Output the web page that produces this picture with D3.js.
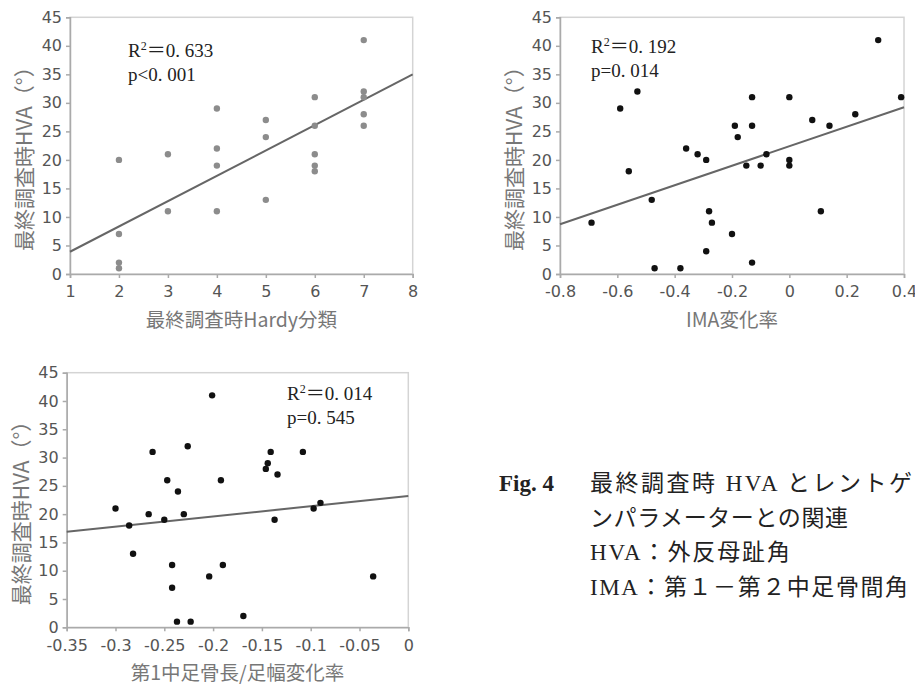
<!DOCTYPE html>
<html>
<head>
<meta charset="utf-8">
<script src="https://cdn.jsdelivr.net/npm/d3@7"></script>
<style>
  body { margin: 0; background: #fff; }
  svg { display: block; }
  .tick text { font-family: "DejaVu Sans", Verdana, sans-serif; font-size: 16px; fill: #555; }
  .axis-title { font-family: "Noto Sans CJK JP", sans-serif; fill: #777; }
  .stat { font-family: "Liberation Serif", "Noto Sans CJK JP", serif; font-size: 19px; fill: #222; }
  .caption { font-family: "Liberation Serif", "Noto Sans CJK JP", serif; font-size: 23px; fill: #222; }
</style>
</head>
<body>
<svg id="chart" width="915" height="686"></svg>
<script>
// HVA ticks shared by all three panels
var hvaTicks = [0, 5, 10, 15, 20, 25, 30, 35, 40, 45];

// panel 1: Hardy grade vs HVA
var hardyX = [2, 2, 2, 2, 3, 3, 4, 4, 4, 4, 5, 5, 5, 6, 6, 6, 6, 6, 7, 7, 7, 7, 7];
var hardyHVA = [20, 7, 2, 1, 21, 11, 29, 22, 19, 11, 27, 24, 13, 31, 26, 21, 19, 18, 41, 32, 31, 28, 26];
var hardyTicks = [1, 2, 3, 4, 5, 6, 7, 8];
var hardyFit = [-0.54, 4.44]; // intercept, slope

// panel 2: IMA change rate vs HVA
var imaX = [-0.69, -0.59, -0.53, -0.56, -0.48, -0.47, -0.38, -0.36, -0.32, -0.29, -0.28, -0.27, -0.29, -0.20, -0.19, -0.18,
            -0.15, -0.13, -0.13, -0.13, -0.10, -0.08, 0, 0, 0, 0.08, 0.11, 0.14, 0.23, 0.31, 0.39];
var imaHVA = [9, 29, 32, 18, 13, 1, 1, 22, 21, 20, 11, 9, 4, 7, 26, 24,
              19, 31, 26, 2, 19, 21, 31, 20, 19, 27, 11, 26, 28, 41, 31];
var imaTicks = [-0.8, -0.6, -0.4, -0.2, 0, 0.2, 0.4];
var imaFit = [22.4, 17.1];

// panel 3: 1st metatarsal length / foot width change rate vs HVA
var mtX = [-0.300, -0.286, -0.282, -0.266, -0.262, -0.250, -0.247, -0.242, -0.242, -0.237, -0.236, -0.230, -0.226, -0.223,
           -0.204, -0.201, -0.192, -0.190, -0.169, -0.146, -0.144, -0.141, -0.134, -0.137, -0.108, -0.097, -0.090, -0.036];
var mtHVA = [21, 18, 13, 20, 31, 19, 26, 11, 7, 1, 24, 20, 32, 1,
             9, 41, 26, 11, 2, 28, 29, 31, 27, 19, 31, 21, 22, 9];
var mtTicks = [-0.35, -0.3, -0.25, -0.2, -0.15, -0.1, -0.05, 0];
var mtFit = [23.2, 18.0];

var captionLines = ['最終調査時 HVA とレントゲ', 'ンパラメーターとの関連', 'HVA：外反母趾角', 'IMA：第１－第２中足骨間角'];
var captionWidths = [322, 258, 200, 318];

var svg = d3.select('#chart');

function fmt(d) { return String(+d.toFixed(2)); }

function drawPanel(p) {
    var x = d3.scaleLinear().domain(p.xDomain).range([p.left, p.right]);
    var y = d3.scaleLinear().domain([0, 45]).range([p.bottom, p.top]);
    var g = svg.append('g');

    // light frame
    g.append('rect')
        .attr('x', p.left).attr('y', p.top)
        .attr('width', p.right - p.left).attr('height', p.bottom - p.top)
        .attr('fill', 'none').attr('stroke', '#d4d4d4').attr('stroke-width', 1.5);

    var xAxis = g.append('g')
        .attr('transform', 'translate(0,' + p.bottom + ')')
        .call(d3.axisBottom(x).tickValues(p.xTicks).tickFormat(fmt).tickSize(4).tickPadding(8));
    var yAxis = g.append('g')
        .attr('transform', 'translate(' + p.left + ',0)')
        .call(d3.axisLeft(y).tickValues(hvaTicks).tickSize(4).tickPadding(4));
    [xAxis, yAxis].forEach(function(a) {
        a.select('.domain').attr('stroke', '#aaa').attr('stroke-width', 1.5);
        a.selectAll('.tick line').attr('stroke', '#aaa').attr('stroke-width', 1.5);
    });

    g.append('line')
        .attr('x1', x(p.xDomain[0])).attr('y1', y(p.fit[0] + p.fit[1] * p.xDomain[0]))
        .attr('x2', x(p.xDomain[1])).attr('y2', y(p.fit[0] + p.fit[1] * p.xDomain[1]))
        .attr('stroke', '#666').attr('stroke-width', 2);

    g.selectAll('circle')
        .data(p.xs)
        .enter().append('circle')
        .attr('cx', function(d) { return x(d); })
        .attr('cy', function(d, i) { return y(p.ys[i]); })
        .attr('r', 3.2)
        .attr('fill', p.dot);

    // stats text
    var st = g.append('text').attr('class', 'stat').attr('x', p.statX).attr('y', p.statY);
    st.append('tspan').text('R');
    st.append('tspan').attr('dy', -7).attr('font-size', 12).text('2');
    st.append('tspan').attr('dy', 7).text('＝0. ' + p.r2);
    g.append('text').attr('class', 'stat').attr('x', p.statX).attr('y', p.statY + 24).text(p.pText);

    g.append('text').attr('class', 'axis-title')
        .attr('text-anchor', 'middle')
        .attr('font-size', 19.5)
        .attr('x', (p.left + p.right) / 2)
        .attr('y', p.bottom + 53)
        .text(p.xTitle);
    g.append('text').attr('class', 'axis-title')
        .attr('text-anchor', 'middle')
        .attr('font-size', 21)
        .attr('transform', 'translate(' + (p.left - 38) + ',' + ((p.top + p.bottom) / 2 + 8) + ') rotate(-90)')
        .text('最終調査時HVA（°）');
}

drawPanel({
    left: 70, right: 412.7, top: 17.3, bottom: 274,
    xDomain: [1, 8], xTicks: hardyTicks, xs: hardyX, ys: hardyHVA, fit: hardyFit,
    dot: '#8c8c8c', statX: 128, statY: 57, r2: '633', pText: 'p<0. 001',
    xTitle: '最終調査時Hardy分類'
});
drawPanel({
    left: 560, right: 904, top: 17.3, bottom: 274,
    xDomain: [-0.8, 0.4], xTicks: imaTicks, xs: imaX, ys: imaHVA, fit: imaFit,
    dot: '#111', statX: 591, statY: 53, r2: '192', pText: 'p=0. 014',
    xTitle: 'IMA変化率'
});
drawPanel({
    left: 66.7, right: 408.3, top: 372.7, bottom: 627.3,
    xDomain: [-0.35, 0], xTicks: mtTicks, xs: mtX, ys: mtHVA, fit: mtFit,
    dot: '#111', statX: 287, statY: 400, r2: '014', pText: 'p=0. 545',
    xTitle: '第1中足骨長/足幅変化率'
});

// figure caption
svg.append('text').attr('class', 'caption')
    .attr('x', 499).attr('y', 491)
    .attr('font-weight', 'bold')
    .text('Fig. 4');
svg.selectAll('.cap-line')
    .data(captionLines)
    .enter().append('text')
    .attr('class', 'caption cap-line')
    .attr('x', 590)
    .attr('y', function(d, i) { return 491 + i * 34.5; })
    .attr('textLength', function(d, i) { return captionWidths[i]; })
    .attr('lengthAdjust', 'spacing')
    .text(function(d) { return d; });
</script>
</body>
</html>
